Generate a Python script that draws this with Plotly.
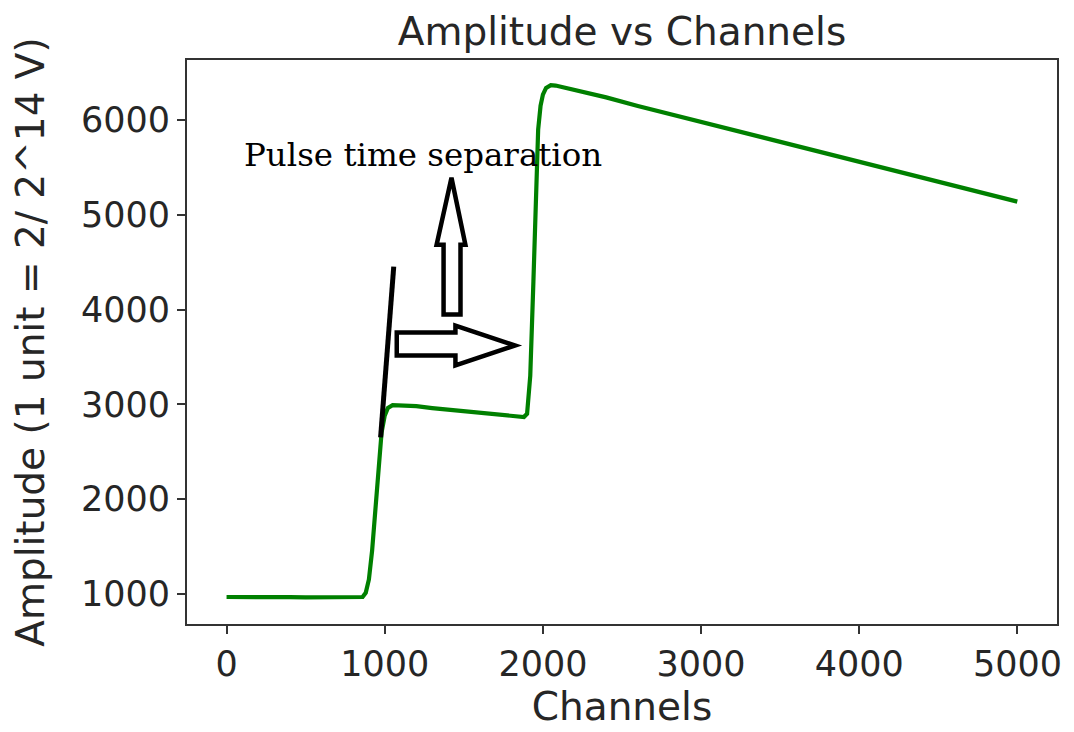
import plotly.graph_objects as go

# Digitiser trace: channel index vs. ADC amplitude
channels = [0, 100, 200, 300, 400, 500, 600, 700, 800, 860, 880, 900, 920, 940,
            960, 980, 1000, 1020, 1050, 1100, 1200, 1300, 1400, 1500, 1600, 1700,
            1800, 1880, 1900, 1920, 1940, 1955, 1970, 1985, 2000, 2020, 2050, 2080,
            2200, 2400, 2600, 2800, 3000, 3200, 3400, 3600, 3800, 4000, 4200, 4400,
            4600, 4800, 4999]
amplitude = [965, 962, 966, 960, 963, 962, 964, 961, 963, 965, 1010, 1150, 1450, 1900,
             2350, 2700, 2880, 2960, 2990, 2990, 2980, 2960, 2945, 2925, 2910, 2895,
             2880, 2865, 2900, 3300, 4300, 5300, 5900, 6150, 6270, 6340, 6370, 6365,
             6320, 6240, 6150, 6065, 5980, 5895, 5810, 5725, 5640, 5555, 5470, 5390,
             5305, 5220, 5140]

x_ticks = [0, 1000, 2000, 3000, 4000, 5000]
y_ticks = [1000, 2000, 3000, 4000, 5000, 6000]

# Hand-drawn markup (data coordinates)
slash_line = [(974, 2651), (1057, 4453)]
right_arrow = [(1076, 3758), (1447, 3758), (1447, 3831), (1824, 3621),
               (1447, 3410), (1447, 3515), (1076, 3515)]
up_arrow = [(1372, 3947), (1372, 4685), (1328, 4685), (1422, 5391),
            (1510, 4685), (1479, 4685), (1479, 3947)]
note_text = "Pulse time separation"
note_pos = (100, 5630)


def closed_path(points):
    return "M " + " L ".join(f"{x},{y}" for x, y in points) + " Z"


fig = go.Figure()
fig.add_trace(go.Scatter(
    x=channels, y=amplitude, mode="lines",
    line=dict(color="#008000", width=4.2), showlegend=False,
))

shapes = [
    dict(type="line", xref="x", yref="y",
         x0=slash_line[0][0], y0=slash_line[0][1],
         x1=slash_line[1][0], y1=slash_line[1][1],
         line=dict(color="black", width=5)),
    dict(type="path", xref="x", yref="y", path=closed_path(right_arrow),
         line=dict(color="black", width=4.5), fillcolor="rgba(0,0,0,0)"),
    dict(type="path", xref="x", yref="y", path=closed_path(up_arrow),
         line=dict(color="black", width=4.5), fillcolor="rgba(0,0,0,0)"),
]

axis_common = dict(
    showline=True, mirror=True, linecolor="#333333", linewidth=2,
    ticks="outside", ticklen=8, tickwidth=2, tickcolor="#333333",
    showgrid=False, zeroline=False,
    tickfont=dict(family="DejaVu Sans", size=35, color="#262626"),
)

label_font = dict(family="DejaVu Sans", size=39, color="#262626")

fig.update_layout(
    width=1074, height=732, autosize=False,
    margin=dict(l=187, r=12, t=60, b=107),
    paper_bgcolor="white", plot_bgcolor="white",
    title=dict(text="Amplitude vs Channels", x=0.5, xref="paper",
               y=1 - 31 / 732, yref="container", yanchor="middle",
               font=label_font),
    xaxis=dict(range=[-250, 5250], tickvals=x_ticks,
               title=dict(text="Channels", standoff=9, font=label_font),
               **axis_common),
    yaxis=dict(range=[680, 6635], tickvals=y_ticks,
               title=dict(text="Amplitude (1 unit = 2/ 2^14 V)", standoff=24,
                          font=label_font),
               **axis_common),
    shapes=shapes,
    annotations=[dict(text=note_text, x=note_pos[0], y=note_pos[1], xref="x", yref="y",
                      xanchor="left", yanchor="middle", showarrow=False,
                      font=dict(family="DejaVu Serif", size=32.5, color="black"))],
)

fig.write_html("out.html")
